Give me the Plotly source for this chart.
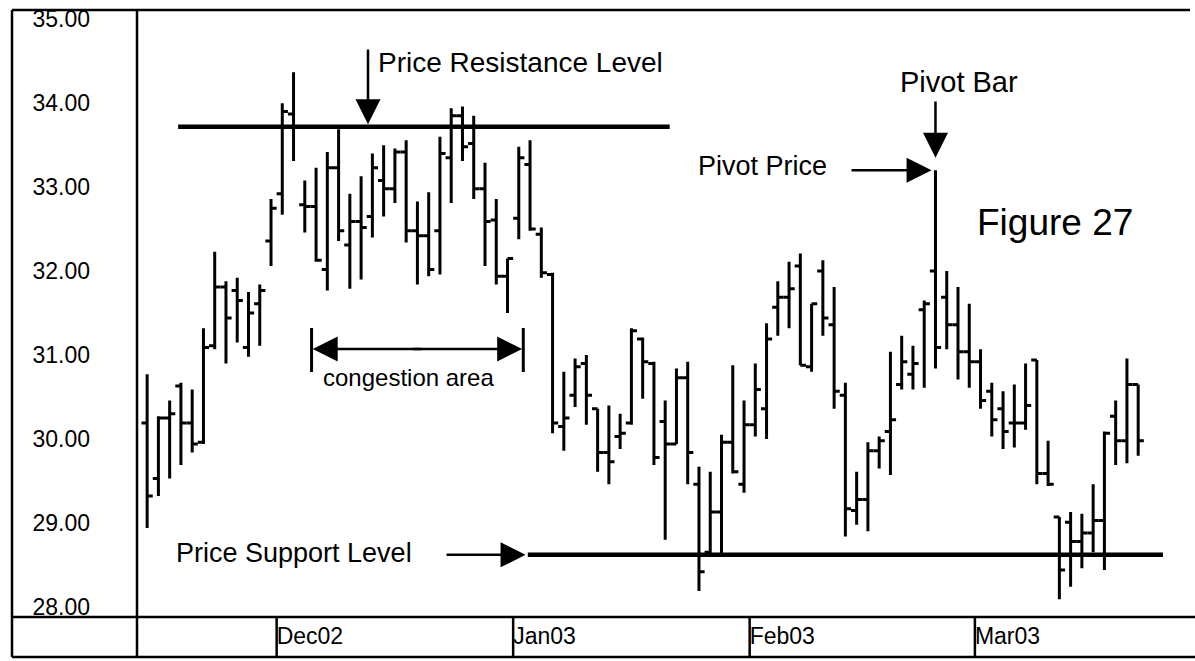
import plotly.graph_objects as go

# ---------------- data ----------------
bar_index = list(range(89))
open_ = [30.19, 29.53, 30.25, 30.63, 30.19, 29.96, 31.11, 31.81, 31.77, 31.09,
         31.61, 32.36, 32.92, 33.87, 32.79, 32.77, 32.02, 33.23, 32.31, 32.59,
         32.65, 33.08, 32.98, 33.42, 32.48, 32.42, 32.48, 33.35, 33.85, 33.52,
         32.98, 32.61, 31.94, 32.63, 33.27, 32.44, 31.96, 30.15, 30.52, 30.90,
         30.36, 29.84, 30.03, 30.19, 31.19, 30.90, 30.21, 29.94, 30.73, 29.46,
         28.65, 29.13, 29.96, 29.46, 30.17, 30.36, 31.57, 31.69, 32.06, 30.86,
         32.00, 31.36, 30.52, 29.15, 29.28, 29.86, 30.09, 30.65, 30.77, 31.54,
         32.00, 31.69, 31.36, 31.04, 30.92, 30.57, 30.36, 30.19, 30.19, 30.94,
         29.59, 29.07, 29.01, 28.78, 28.88, 29.03, 30.27, 29.98, 30.65]
high = [30.77, 30.27, 30.46, 30.67, 30.59, 31.32, 32.23, 31.88, 31.92, 31.75,
        31.84, 32.86, 34.00, 34.37, 33.08, 33.23, 33.42, 33.69, 32.92, 33.13,
        33.40, 33.50, 33.46, 33.56, 32.83, 32.94, 33.60, 33.94, 33.96, 33.85,
        33.29, 32.86, 32.15, 33.48, 33.56, 32.52, 31.98, 30.80, 30.96, 31.00,
        30.36, 30.40, 30.30, 31.32, 31.21, 30.92, 30.46, 30.84, 30.92, 29.67,
        29.61, 30.05, 30.88, 30.46, 30.90, 31.38, 31.88, 32.11, 32.21, 31.61,
        32.13, 31.81, 30.67, 29.61, 29.96, 30.03, 31.04, 31.23, 31.11, 31.65,
        33.20, 32.00, 31.81, 31.61, 31.07, 30.67, 30.57, 30.65, 30.90, 30.94,
        29.98, 29.07, 29.13, 29.11, 29.46, 30.09, 30.46, 30.96, 30.65]
low = [28.94, 29.32, 29.53, 29.69, 29.84, 29.94, 31.07, 30.90, 31.15, 30.98,
       31.11, 32.06, 32.67, 33.31, 32.46, 32.11, 31.77, 32.36, 31.79, 31.90,
       32.40, 32.65, 32.81, 32.34, 31.84, 31.94, 31.96, 32.81, 33.31, 32.86,
       32.06, 31.84, 31.50, 32.38, 32.48, 31.92, 30.07, 29.86, 30.38, 30.17,
       29.61, 29.46, 29.88, 30.17, 30.48, 29.69, 28.80, 29.94, 29.46, 28.19,
       28.61, 28.61, 29.59, 29.36, 30.03, 30.00, 31.23, 31.32, 30.88, 30.80,
       31.23, 30.36, 28.84, 28.98, 28.90, 29.65, 29.57, 30.59, 30.59, 30.61,
       30.84, 31.07, 30.71, 30.61, 30.36, 30.03, 29.88, 29.90, 30.11, 29.46,
       29.44, 28.09, 28.24, 28.46, 28.65, 28.44, 29.69, 29.71, 29.80]
close = [29.32, 30.25, 30.30, 30.19, 29.94, 31.09, 31.81, 31.44, 31.65, 31.50,
         31.77, 32.75, 33.90, 33.71, 32.77, 32.13, 33.23, 32.48, 32.59, 32.52,
         33.23, 32.98, 33.42, 32.48, 32.42, 32.02, 33.40, 33.85, 33.48, 32.98,
         32.59, 31.94, 32.15, 33.35, 32.50, 31.98, 30.19, 30.25, 30.86, 30.52,
         29.84, 29.73, 30.07, 31.29, 30.92, 29.78, 29.94, 30.73, 29.84, 28.42,
         29.13, 29.96, 29.61, 30.17, 30.59, 31.19, 31.69, 31.79, 30.88, 31.61,
         31.44, 30.57, 29.17, 29.28, 29.86, 29.98, 30.23, 30.92, 30.90, 31.61,
         31.09, 31.36, 31.04, 30.92, 30.46, 30.23, 30.09, 30.19, 30.40, 29.59,
         29.46, 28.44, 28.78, 28.88, 29.03, 30.07, 29.98, 30.65, 29.98]

month_ticks = [11.5, 32.5, 53.5, 73.5]
month_labels = ["Dec02", "Jan03", "Feb03", "Mar03"]
price_ticks = [28, 29, 30, 31, 32, 33, 34, 35]
price_labels = ["28.00", "29.00", "30.00", "31.00", "32.00", "33.00", "34.00", "35.00"]

resistance_level = 33.72
resistance_span = [2.75, 46.4]
support_level = 28.62
support_span = [33.8, 90.2]
pivot_index = 70
pivot_price = 33.20
congestion_span = [14.6, 33.4]

# ---------------- layout geometry ----------------
W, H = 1195, 661
L, R, T, B = 137, 5, 10, 44
PW, PH = W - L - R, H - T - B
XR = [-0.9, 92.6]
YR = [27.88, 35.11]

def dx(px):
    return XR[0] + (px - L) / PW * (XR[1] - XR[0])

def dy(py):
    return YR[1] - (py - T) / PH * (YR[1] - YR[0])

def px_paper(px):
    return (px - L) / PW

def py_paper(py):
    return 1 - (py - T) / PH

FONT = "Liberation Sans, Arial, Helvetica, sans-serif"
LW = 2.5

fig = go.Figure()
fig.add_trace(go.Ohlc(
    x=bar_index, open=open_, high=high, low=low, close=close,
    increasing=dict(line=dict(color="black", width=3)),
    decreasing=dict(line=dict(color="black", width=3)),
    tickwidth=0.5, showlegend=False, hoverinfo="skip"))

fig.add_trace(go.Scatter(x=resistance_span, y=[resistance_level] * 2, mode="lines",
                         line=dict(color="black", width=4.5), showlegend=False, hoverinfo="skip"))
fig.add_trace(go.Scatter(x=support_span, y=[support_level] * 2, mode="lines",
                         line=dict(color="black", width=4.5), showlegend=False, hoverinfo="skip"))

shapes = []
def pline(x0, y0, x1, y1, w=LW):
    shapes.append(dict(type="line", xref="paper", yref="paper",
                       x0=px_paper(x0), y0=py_paper(y0), x1=px_paper(x1), y1=py_paper(y1),
                       line=dict(color="black", width=w), layer="above"))

# frame
pline(12, 10, 1190, 10)
pline(12, 10, 12, 657)
pline(137, 10, 137, 657)
pline(12, 617, 1195, 617)
pline(12, 657, 1195, 657)
# month dividers in the label row
for m in month_ticks:
    shapes.append(dict(type="line", xref="x", yref="paper", x0=m, x1=m,
                       y0=py_paper(617), y1=py_paper(657),
                       line=dict(color="black", width=LW)))
# congestion area end bars
for cx in congestion_span:
    shapes.append(dict(type="line", xref="x", yref="y", x0=cx, x1=cx,
                       y0=dy(328), y1=dy(372), line=dict(color="black", width=3)))

annotations = []
def text(s, px, py, size, xanchor="left"):
    annotations.append(dict(text=s, x=dx(px), y=dy(py), xref="x", yref="y",
                            showarrow=False, xanchor=xanchor, yanchor="middle",
                            font=dict(family=FONT, size=size, color="black")))

def arrow(hx, hy, tx, ty, w=2.5, size=2.0):
    annotations.append(dict(text="", x=hx, y=hy, xref="x", yref="y",
                            ax=tx, ay=ty, axref="x", ayref="y",
                            showarrow=True, arrowhead=2, arrowsize=size,
                            arrowwidth=w, arrowcolor="black"))

text("Price Resistance Level", 376, 62, 28)
arrow(dx(368), resistance_level + 0.03, dx(368), dy(48))
text("Pivot Bar", 959, 82, 29, "center")
arrow(pivot_index, pivot_price + 0.15, pivot_index, dy(100))
text("Pivot Price", 762, 166, 27, "center")
arrow(pivot_index - 0.35, pivot_price, dx(850), pivot_price)
text("Figure 27", 1055, 222, 37, "center")
text("congestion area", 408, 377, 24, "center")
mid = (congestion_span[0] + congestion_span[1]) / 2
arrow(congestion_span[0] + 0.1, dy(349), mid + 0.5, dy(349))
arrow(congestion_span[1] - 0.1, dy(349), mid - 0.5, dy(349))
text("Price Support Level", 174, 553, 27)
arrow(support_span[0] - 0.2, support_level, dx(445), support_level)

fig.update_layout(
    width=W, height=H,
    margin=dict(l=L, r=R, t=T, b=B, pad=0),
    paper_bgcolor="white", plot_bgcolor="white",
    showlegend=False,
    font=dict(family=FONT, color="black"),
    shapes=shapes, annotations=annotations,
    xaxis=dict(range=XR, showgrid=False, zeroline=False, showline=False,
               rangeslider=dict(visible=False), tickmode="array",
               tickvals=month_ticks, ticktext=month_labels,
               ticklabelposition="outside right", ticks="", ticklabelstandoff=3,
               tickfont=dict(family=FONT, size=23, color="black")),
    yaxis=dict(range=YR, showgrid=False, zeroline=False, showline=False,
               tickmode="array", tickvals=price_ticks, ticktext=price_labels,
               ticks="", ticklabelstandoff=46,
               tickfont=dict(family=FONT, size=23, color="black")),
)

fig.write_html("out.html", config={"displayModeBar": False},
               post_script="document.body.style.margin='0';document.body.style.overflow='hidden';")
